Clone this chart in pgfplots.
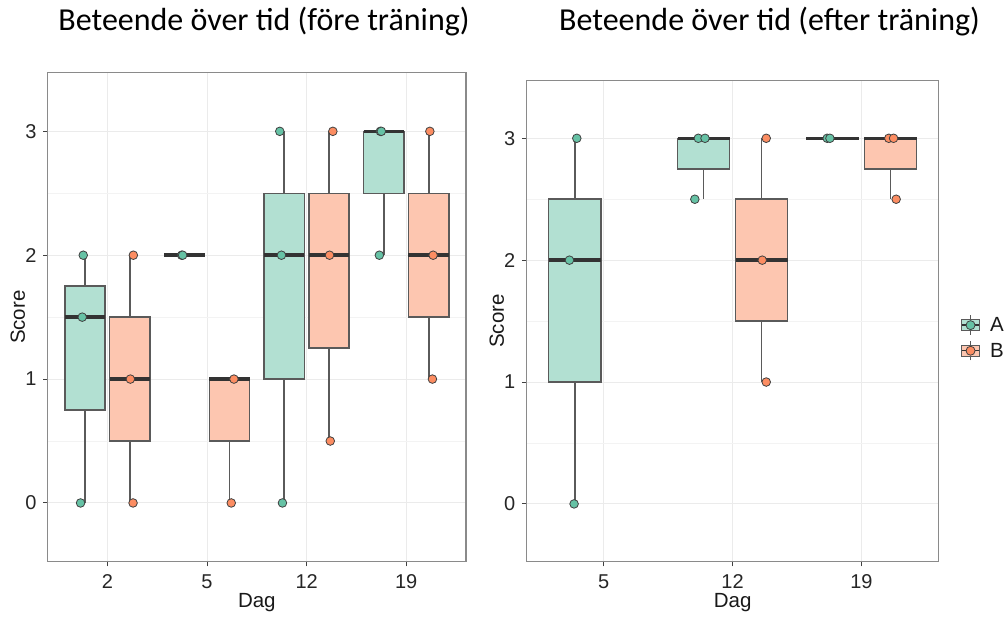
\documentclass[border=0pt]{standalone}
\usepackage{fontspec}
\setmainfont{Liberation Sans}
\newfontfamily\titlefont{Carlito}
\usepackage{pgfplots}
\pgfplotsset{compat=1.18}
\usepgfplotslibrary{statistics}

\definecolor{ptA}{HTML}{66C2A5}
\definecolor{ptB}{HTML}{FC8D62}
\definecolor{fillA}{HTML}{B2E0D2}
\definecolor{fillB}{HTML}{FDC6B0}
\definecolor{boxline}{HTML}{5A5A5A}
\definecolor{medline}{HTML}{333333}
\definecolor{gridc}{HTML}{EBEBEB}
\definecolor{framec}{HTML}{8A8A8A}

% one box: style, position, lower whisker, lower quartile, median, upper quartile, upper whisker
\newcommand{\bx}[7]{%
  \addplot[#1, boxplot prepared={draw direction=y, draw position=#2, lower whisker=#3,
    lower quartile=#4, median=#5, upper quartile=#6, upper whisker=#7,
    box extend=0.405, whisker extend=0}] coordinates {};}

\pgfplotsset{
  panel/.style={
    scale only axis,
    anchor=south west,
    ymin=-0.475, ymax=3.475,
    ytick={0,1,2,3},
    minor ytick={0.5,1.5,2.5},
    xmajorgrids, ymajorgrids, yminorgrids,
    major grid style={draw=gridc, line width=1pt},
    minor grid style={draw=gridc!60, line width=0.6pt},
    axis line style={draw=framec, line width=1.2pt},
    tick align=outside,
    xtick pos=left, ytick pos=left,
    major tick length=4.5pt,
    minor tick length=0pt,
    tick style={draw=black!75, line width=1pt},
    ticklabel style={font=\fontsize{20}{22}\selectfont, text=black!85},
    xticklabel style={inner sep=0pt, anchor=north, yshift=-8pt},
    yticklabel style={inner sep=0pt, anchor=east, xshift=-6.5pt},
    /pgf/number format/assume math mode=true,
    label style={font=\fontsize{20.5}{22}\selectfont, text=black!90},
    xlabel=Dag, ylabel=Score,
    xlabel style={at={(axis description cs:0.5,0)}, anchor=north, inner sep=0pt, yshift=-31.5pt},
    ylabel style={at={(axis description cs:-0.0717,0.5)}, anchor=center, inner sep=0pt},
  },
  bxA/.style={forget plot,
    boxplot/every box/.style={draw=boxline, fill=fillA, line width=1.5pt},
    boxplot/every whisker/.style={draw=boxline, line width=1.7pt},
    boxplot/every median/.style={draw=medline, line width=3.5pt}},
  bxB/.style={forget plot,
    boxplot/every box/.style={draw=boxline, fill=fillB, line width=1.5pt},
    boxplot/every whisker/.style={draw=boxline, line width=1.7pt},
    boxplot/every median/.style={draw=medline, line width=3.5pt}},
  ptsA/.style={only marks, mark=*, mark size=4.3pt, forget plot,
    mark options={fill=ptA, draw=black!75, line width=0.8pt}},
  ptsB/.style={only marks, mark=*, mark size=4.3pt, forget plot,
    mark options={fill=ptB, draw=black!75, line width=0.8pt}},
}

\begin{document}
\begin{tikzpicture}
\path[use as bounding box] (0,0) rectangle (1007pt,619pt);

\node[anchor=base, font=\titlefont\fontsize{32}{34}\selectfont] at (264pt,588.3pt) {Beteende över tid (före träning)};
\node[anchor=base, font=\titlefont\fontsize{32}{34}\selectfont] at (769.5pt,588.3pt) {Beteende över tid (efter träning)};

% before training
\begin{axis}[panel, at={(47.7pt,57.2pt)}, width=418.3pt, height=489.3pt,
  xmin=0.4, xmax=4.6, xtick={1,2,3,4}, xticklabels={2,5,12,19}]
  \bx{bxA}{0.775}{0}{0.75}{1.5}{1.75}{2}
  \bx{bxA}{1.775}{2}{2}{2}{2}{2}
  \bx{bxA}{2.775}{0}{1}{2}{2.5}{3}
  \bx{bxA}{3.775}{2}{2.5}{3}{3}{3}
  \bx{bxB}{1.225}{0}{0.5}{1}{1.5}{2}
  \bx{bxB}{2.225}{0}{0.5}{1}{1}{1}
  \bx{bxB}{3.225}{0.5}{1.25}{2}{2.5}{3}
  \bx{bxB}{4.225}{1}{1.5}{2}{2.5}{3}
  \addplot[ptsA] coordinates {
    (0.757,2) (0.747,1.5) (0.730,0)
    (1.745,2) (1.755,2)
    (2.730,3) (2.747,2) (2.757,0)
    (3.740,3) (3.750,3) (3.730,2)
  };
  \addplot[ptsB] coordinates {
    (1.260,2) (1.230,1) (1.257,0)
    (2.270,1) (2.243,0)
    (3.263,3) (3.230,2) (3.237,0.5)
    (4.237,3) (4.270,2) (4.263,1)
  };
\end{axis}

% after training
\begin{axis}[panel, at={(526.4pt,57.2pt)}, width=412.4pt, height=481.4pt,
  xmin=0.4, xmax=3.6, xtick={1,2,3}, xticklabels={5,12,19},
  legend style={at={(axis description cs:1,0.465)}, anchor=west, xshift=22pt,
    draw=none, fill=none, inner sep=0pt, row sep=5pt,
    font=\fontsize{20.5}{22}\selectfont, text=black!90, cells={anchor=west},
    /tikz/every odd column/.append style={column sep=8pt}},
  legend cell align=left]
  \addlegendimage{legend image code/.code={
    \draw[line width=1.2pt, draw=boxline] (8.8pt,-9.7pt) -- (8.8pt,9.7pt);
    \draw[line width=1.2pt, draw=boxline, fill=fillA] (0pt,-5.5pt) rectangle (17.6pt,5.5pt);
    \draw[line width=1.5pt, draw=medline] (0pt,0pt) -- (17.6pt,0pt);
    \fill[ptA, draw=black!75, line width=0.8pt] (8.8pt,0pt) circle (4.5pt);
  }}
  \addlegendentry{A}
  \addlegendimage{legend image code/.code={
    \draw[line width=1.2pt, draw=boxline] (8.8pt,-9.7pt) -- (8.8pt,9.7pt);
    \draw[line width=1.2pt, draw=boxline, fill=fillB] (0pt,-5.5pt) rectangle (17.6pt,5.5pt);
    \draw[line width=1.5pt, draw=medline] (0pt,0pt) -- (17.6pt,0pt);
    \fill[ptB, draw=black!75, line width=0.8pt] (8.8pt,0pt) circle (4.5pt);
  }}
  \addlegendentry{B}
  \bx{bxA}{0.775}{0}{1}{2}{2.5}{3}
  \bx{bxA}{1.775}{2.5}{2.75}{3}{3}{3}
  \bx{bxA}{2.775}{3}{3}{3}{3}{3}
  \bx{bxB}{2.225}{1}{1.5}{2}{2.5}{3}
  \bx{bxB}{3.225}{2.5}{2.75}{3}{3}{3}
  \addplot[ptsA] coordinates {
    (0.791,3) (0.734,2) (0.770,0)
    (1.734,3) (1.786,3) (1.707,2.5)
    (2.734,3) (2.755,3)
  };
  \addplot[ptsB] coordinates {
    (2.261,3) (2.230,2) (2.261,1)
    (3.212,3) (3.249,3) (3.269,2.5)
  };
\end{axis}
\end{tikzpicture}
\end{document}
